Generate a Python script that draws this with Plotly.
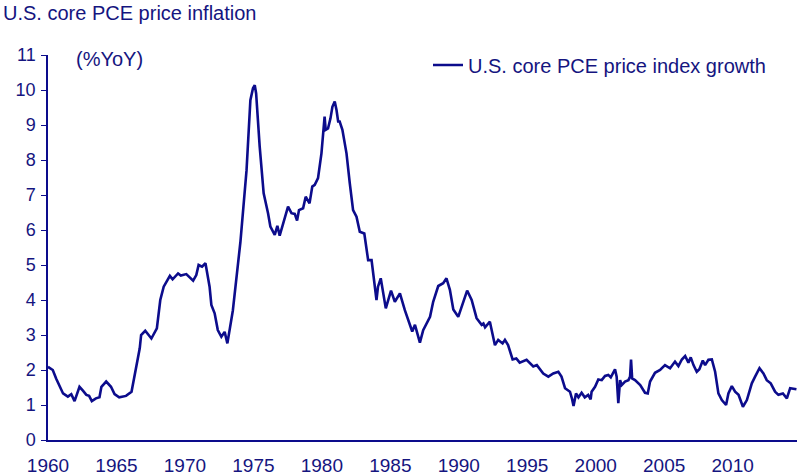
import plotly.graph_objects as go

# Decimal year of each reading
years = [
    1960.0, 1960.35, 1960.6, 1961.1, 1961.45, 1961.7, 1961.94, 1962.3, 1962.55, 1962.8,
    1963.0, 1963.2, 1963.5, 1963.76, 1963.9, 1964.25, 1964.6, 1964.86, 1965.2, 1965.7,
    1966.1, 1966.45, 1966.7, 1966.8, 1967.1, 1967.55, 1967.95, 1968.2, 1968.45, 1968.9,
    1969.1, 1969.5, 1969.7, 1970.1, 1970.6, 1970.83, 1971.0, 1971.25, 1971.5, 1971.8,
    1971.93, 1972.17, 1972.4, 1972.66, 1972.9, 1973.1, 1973.5, 1974.05, 1974.5, 1974.78,
    1974.97, 1975.1, 1975.2, 1975.46, 1975.75, 1976.07, 1976.24, 1976.56, 1976.75, 1976.92,
    1977.3, 1977.53, 1977.78, 1978.02, 1978.19, 1978.33, 1978.63, 1978.82, 1979.1, 1979.3,
    1979.48, 1979.72, 1979.97, 1980.1, 1980.2, 1980.28, 1980.45, 1980.63, 1980.77, 1980.94,
    1981.07, 1981.19, 1981.3, 1981.5, 1981.8, 1982.04, 1982.28, 1982.53, 1982.77, 1983.1,
    1983.38, 1983.63, 1983.8, 1983.99, 1984.1, 1984.3, 1984.67, 1985.05, 1985.33, 1985.7,
    1986.06, 1986.43, 1986.6, 1986.8, 1987.16, 1987.4, 1987.9, 1988.13, 1988.5, 1988.86,
    1989.1, 1989.35, 1989.6, 1989.96, 1990.28, 1990.61, 1990.94, 1991.3, 1991.67, 1991.8,
    1991.92, 1992.27, 1992.64, 1992.88, 1993.2, 1993.37, 1993.6, 1993.93, 1994.2, 1994.45,
    1994.95, 1995.25, 1995.44, 1995.7, 1996.17, 1996.54, 1996.9, 1997.27, 1997.5, 1997.76,
    1998.12, 1998.26, 1998.38, 1998.56, 1998.74, 1998.97, 1999.2, 1999.45, 1999.63, 1999.7,
    1999.95, 2000.19, 2000.44, 2000.68, 2000.92, 2001.1, 2001.29, 2001.41, 2001.53, 2001.65,
    2001.78, 2001.9, 2002.14, 2002.39, 2002.51, 2002.58, 2002.66, 2002.87, 2003.25, 2003.6,
    2003.8, 2003.97, 2004.33, 2004.7, 2005.06, 2005.43, 2005.79, 2006.04, 2006.29, 2006.53,
    2006.77, 2006.94, 2007.14, 2007.38, 2007.57, 2007.82, 2007.99, 2008.23, 2008.48, 2008.72,
    2008.96, 2009.21, 2009.52, 2009.69, 2009.94, 2010.18, 2010.43, 2010.75, 2011.04, 2011.4,
    2011.64, 2011.96, 2012.25, 2012.49, 2012.78, 2013.1, 2013.34, 2013.67, 2013.96, 2014.2,
    2014.66,
]

# U.S. core PCE price index growth, %YoY
core_pce = [
    2.09, 2.0, 1.75, 1.33, 1.24, 1.31, 1.11, 1.52, 1.41, 1.29,
    1.26, 1.11, 1.19, 1.22, 1.52, 1.67, 1.52, 1.31, 1.22, 1.26,
    1.38, 2.09, 2.62, 3.0, 3.12, 2.9, 3.19, 4.0, 4.38, 4.69,
    4.59, 4.76, 4.7, 4.74, 4.55, 4.71, 5.0, 4.95, 5.05, 4.38,
    3.86, 3.62, 3.14, 2.95, 3.09, 2.76, 3.7, 5.65, 7.71, 9.71,
    10.05, 10.14, 9.9, 8.38, 7.05, 6.48, 6.1, 5.86, 6.12, 5.84,
    6.33, 6.67, 6.48, 6.46, 6.27, 6.57, 6.62, 6.95, 6.76, 7.24,
    7.29, 7.48, 8.19, 8.81, 9.24, 8.86, 8.9, 9.19, 9.52, 9.67,
    9.43, 9.1, 9.1, 8.86, 8.19, 7.33, 6.57, 6.38, 5.95, 5.9,
    5.14, 5.14, 4.57, 4.0, 4.38, 4.62, 3.76, 4.27, 3.95, 4.19,
    3.71, 3.29, 3.1, 3.29, 2.78, 3.14, 3.52, 3.95, 4.4, 4.48,
    4.62, 4.29, 3.73, 3.52, 3.9, 4.27, 4.0, 3.48, 3.29, 3.33,
    3.22, 3.38, 2.71, 2.86, 2.76, 2.86, 2.71, 2.3, 2.33, 2.21,
    2.29, 2.19, 2.1, 2.14, 1.9, 1.81, 1.9, 1.95, 1.81, 1.48,
    1.38, 1.19, 0.97, 1.33, 1.22, 1.35, 1.22, 1.29, 1.16, 1.38,
    1.52, 1.73, 1.71, 1.83, 1.86, 1.79, 1.92, 2.02, 1.81, 1.05,
    1.71, 1.57, 1.67, 1.71, 1.81, 2.3, 1.76, 1.71, 1.57, 1.35,
    1.33, 1.67, 1.92, 2.0, 2.14, 2.05, 2.24, 2.11, 2.3, 2.4,
    2.21, 2.36, 2.14, 1.95, 2.02, 2.27, 2.14, 2.29, 2.3, 1.95,
    1.33, 1.14, 1.0, 1.33, 1.54, 1.38, 1.29, 0.95, 1.14, 1.62,
    1.81, 2.05, 1.9, 1.71, 1.62, 1.38, 1.29, 1.33, 1.19, 1.48,
    1.45,
]

x_ticks = [1960, 1965, 1970, 1975, 1980, 1985, 1990, 1995, 2000, 2005, 2010]
x_tick_labels = [str(v) for v in x_ticks]
y_ticks = list(range(0, 12))

NAVY = "#0c0c8c"
TEXT = "#15157f"
FONT = "Liberation Sans, Arial, Helvetica, sans-serif"

PL, PR, PT, PB = 48, 797, 55, 440
PW, PH = PR - PL, PB - PT

fig = go.Figure()
fig.add_trace(go.Scatter(
    x=years, y=core_pce, mode="lines",
    name="U.S. core PCE price index growth",
    line=dict(color=NAVY, width=2.6),
))

fig.update_layout(
    width=800, height=476,
    margin=dict(l=PL, r=800 - PR, t=PT, b=476 - PB, autoexpand=False),
    paper_bgcolor="white", plot_bgcolor="white",
    font=dict(family=FONT, color=TEXT, size=18),
    title=dict(text="U.S. core PCE price inflation", x=3/800, xref="container",
               xanchor="left", y=1-12.5/476, yref="container", yanchor="middle",
               font=dict(size=20, color=TEXT, family=FONT)),
    showlegend=True,
    legend=dict(xref="paper", yref="paper", x=(428-PL)/PW, y=(PB-65)/PH,
                xanchor="left", yanchor="middle", bgcolor="rgba(0,0,0,0)",
                font=dict(size=20, color=TEXT, family=FONT)),
    xaxis=dict(range=[1960, 2014.7], tickvals=x_ticks, ticktext=x_tick_labels,
               showgrid=False, zeroline=False, showline=True, linecolor=NAVY,
               linewidth=1.5, ticks="", tickangle=0, automargin=False,
               ticklabelstandoff=7, tickfont=dict(size=19, color=TEXT)),
    yaxis=dict(range=[0, 11], tickvals=y_ticks, showgrid=False, zeroline=False,
               showline=True, linecolor=NAVY, linewidth=1.5, ticks="outside",
               ticklen=5, tickwidth=1.2, tickcolor=NAVY, automargin=False,
               ticklabelstandoff=2, tickfont=dict(size=18, color=TEXT)),
    annotations=[dict(text="(%YoY)", xref="paper", yref="paper",
                      x=(74-PL)/PW, y=(PB-59)/PH, xanchor="left",
                      yanchor="middle", showarrow=False,
                      font=dict(size=20, color=TEXT, family=FONT))],
)

fig.write_html("out.html", config={"displayModeBar": False},
               post_script="document.body.style.margin='0px';")
